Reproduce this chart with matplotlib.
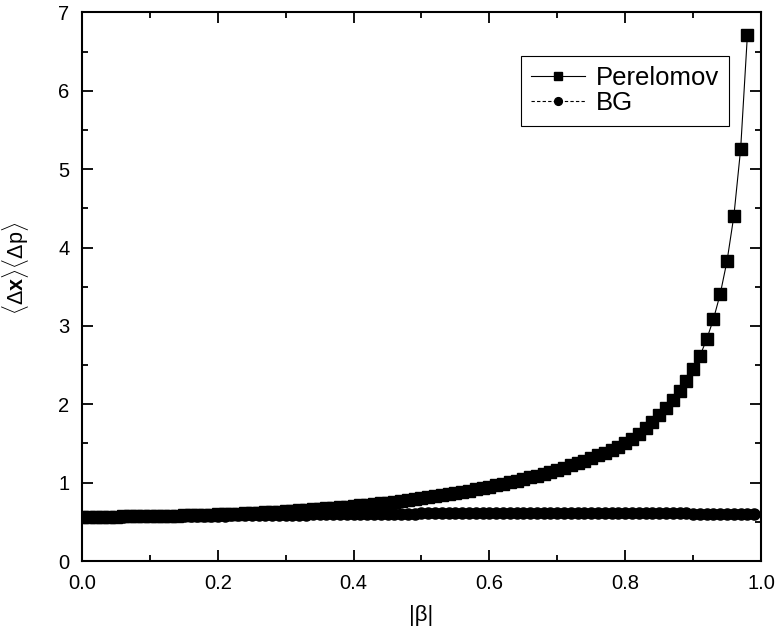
import matplotlib
matplotlib.use("Agg")
import matplotlib.pyplot as plt
from matplotlib.ticker import MultipleLocator, FormatStrFormatter

plt.rcParams['font.family'] = ['Liberation Sans', 'DejaVu Sans']
plt.rcParams['mathtext.fontset'] = 'custom'
plt.rcParams['mathtext.rm'] = 'Liberation Sans'
plt.rcParams['mathtext.bf'] = 'Liberation Sans:bold'

# |beta| grid used by both curves
beta_perelomov = [round(0.01 * i, 2) for i in range(99)]
beta_bg = [round(0.01 * i, 2) for i in range(100)]

# uncertainty product, Perelomov states
dxdp_perelomov = [
    0.565, 0.565, 0.565, 0.566, 0.566, 0.567, 0.568, 0.569, 0.570, 0.571,
    0.573, 0.574, 0.576, 0.578, 0.580, 0.582, 0.584, 0.587, 0.589, 0.592,
    0.595, 0.598, 0.601, 0.605, 0.608, 0.612, 0.616, 0.620, 0.625, 0.630,
    0.635, 0.640, 0.646, 0.652, 0.658, 0.664, 0.671, 0.678, 0.685, 0.693,
    0.701, 0.709, 0.718, 0.727, 0.736, 0.746, 0.756, 0.767, 0.778, 0.790,
    0.802, 0.814, 0.827, 0.840, 0.854, 0.868, 0.883, 0.898, 0.914, 0.931,
    0.948, 0.966, 0.985, 1.005, 1.025, 1.046, 1.068, 1.091, 1.115, 1.140,
    1.166, 1.193, 1.221, 1.250, 1.281, 1.313, 1.347, 1.383, 1.421, 1.461,
    1.508, 1.562, 1.625, 1.697, 1.775, 1.860, 1.952, 2.052, 2.168, 2.300,
    2.445, 2.615, 2.830, 3.087, 3.410, 3.830, 4.400, 5.255, 6.715,
]

# uncertainty product, BG states
dxdp_bg = [
    0.566, 0.566, 0.566, 0.566, 0.567, 0.567, 0.567, 0.568, 0.568, 0.569,
    0.570, 0.570, 0.571, 0.572, 0.573, 0.574, 0.575, 0.576, 0.577, 0.578,
    0.579, 0.580, 0.581, 0.582, 0.584, 0.585, 0.586, 0.587, 0.588, 0.589,
    0.590, 0.591, 0.592, 0.593, 0.594, 0.595, 0.596, 0.597, 0.598, 0.599,
    0.600, 0.601, 0.602, 0.602, 0.603, 0.604, 0.604, 0.605, 0.606, 0.606,
    0.607, 0.607, 0.608, 0.608, 0.609, 0.609, 0.609, 0.610, 0.610, 0.610,
    0.611, 0.611, 0.611, 0.611, 0.612, 0.612, 0.612, 0.612, 0.612, 0.612,
    0.612, 0.612, 0.612, 0.611, 0.611, 0.611, 0.611, 0.611, 0.610, 0.610,
    0.610, 0.610, 0.609, 0.609, 0.609, 0.608, 0.608, 0.608, 0.607, 0.607,
    0.606, 0.606, 0.605, 0.605, 0.604, 0.603, 0.603, 0.602, 0.601, 0.600,
]

fig = plt.figure(figsize=(7.77, 6.41), dpi=100)
ax = fig.add_axes([0.1055, 0.1248, 0.8739, 0.8557])

ax.plot(beta_perelomov, dxdp_perelomov, color='black', lw=0.8, ls='-',
        marker='s', markersize=8, label='Perelomov', zorder=3)
ax.plot(beta_bg, dxdp_bg, color='black', lw=0.8, ls=(0, (3, 2)),
        marker='o', markersize=8, label='BG', zorder=2)

ax.set_xlim(0, 1.0)
ax.set_ylim(0, 7)
ax.xaxis.set_major_locator(MultipleLocator(0.2))
ax.xaxis.set_minor_locator(MultipleLocator(0.1))
ax.yaxis.set_major_locator(MultipleLocator(1))
ax.yaxis.set_minor_locator(MultipleLocator(0.5))
ax.xaxis.set_major_formatter(FormatStrFormatter('%.1f'))

for s in ax.spines.values():
    s.set_linewidth(1.5)
ax.tick_params(which='both', direction='in', top=True, right=True,
               width=1.3, labelsize=14.5, colors='black')
ax.tick_params(which='major', length=8)
ax.tick_params(axis='x', which='major', pad=9)
ax.tick_params(axis='y', which='major', pad=9)
ax.tick_params(which='minor', length=4.5)

leg = ax.legend(loc='upper right', bbox_to_anchor=(0.953, 0.921),
                borderaxespad=0, fontsize=18.5, frameon=True, fancybox=False,
                edgecolor='black', framealpha=1, markerscale=0.7,
                handlelength=2.1, handletextpad=0.4, labelspacing=0.05,
                borderpad=0.4)
leg.get_frame().set_linewidth(0.8)

fig.text(15.5 / 777, 1 - 268 / 641,
         r'$\langle\Delta\mathbf{x}\rangle\langle\Delta\mathrm{p}\rangle$',
         rotation=90, ha='center', va='center', fontsize=15.5)
fig.text(421 / 777, 1 - 615 / 641, '|β|', ha='center', va='center',
         fontsize=16)

fig.savefig('out.png', dpi=100)
